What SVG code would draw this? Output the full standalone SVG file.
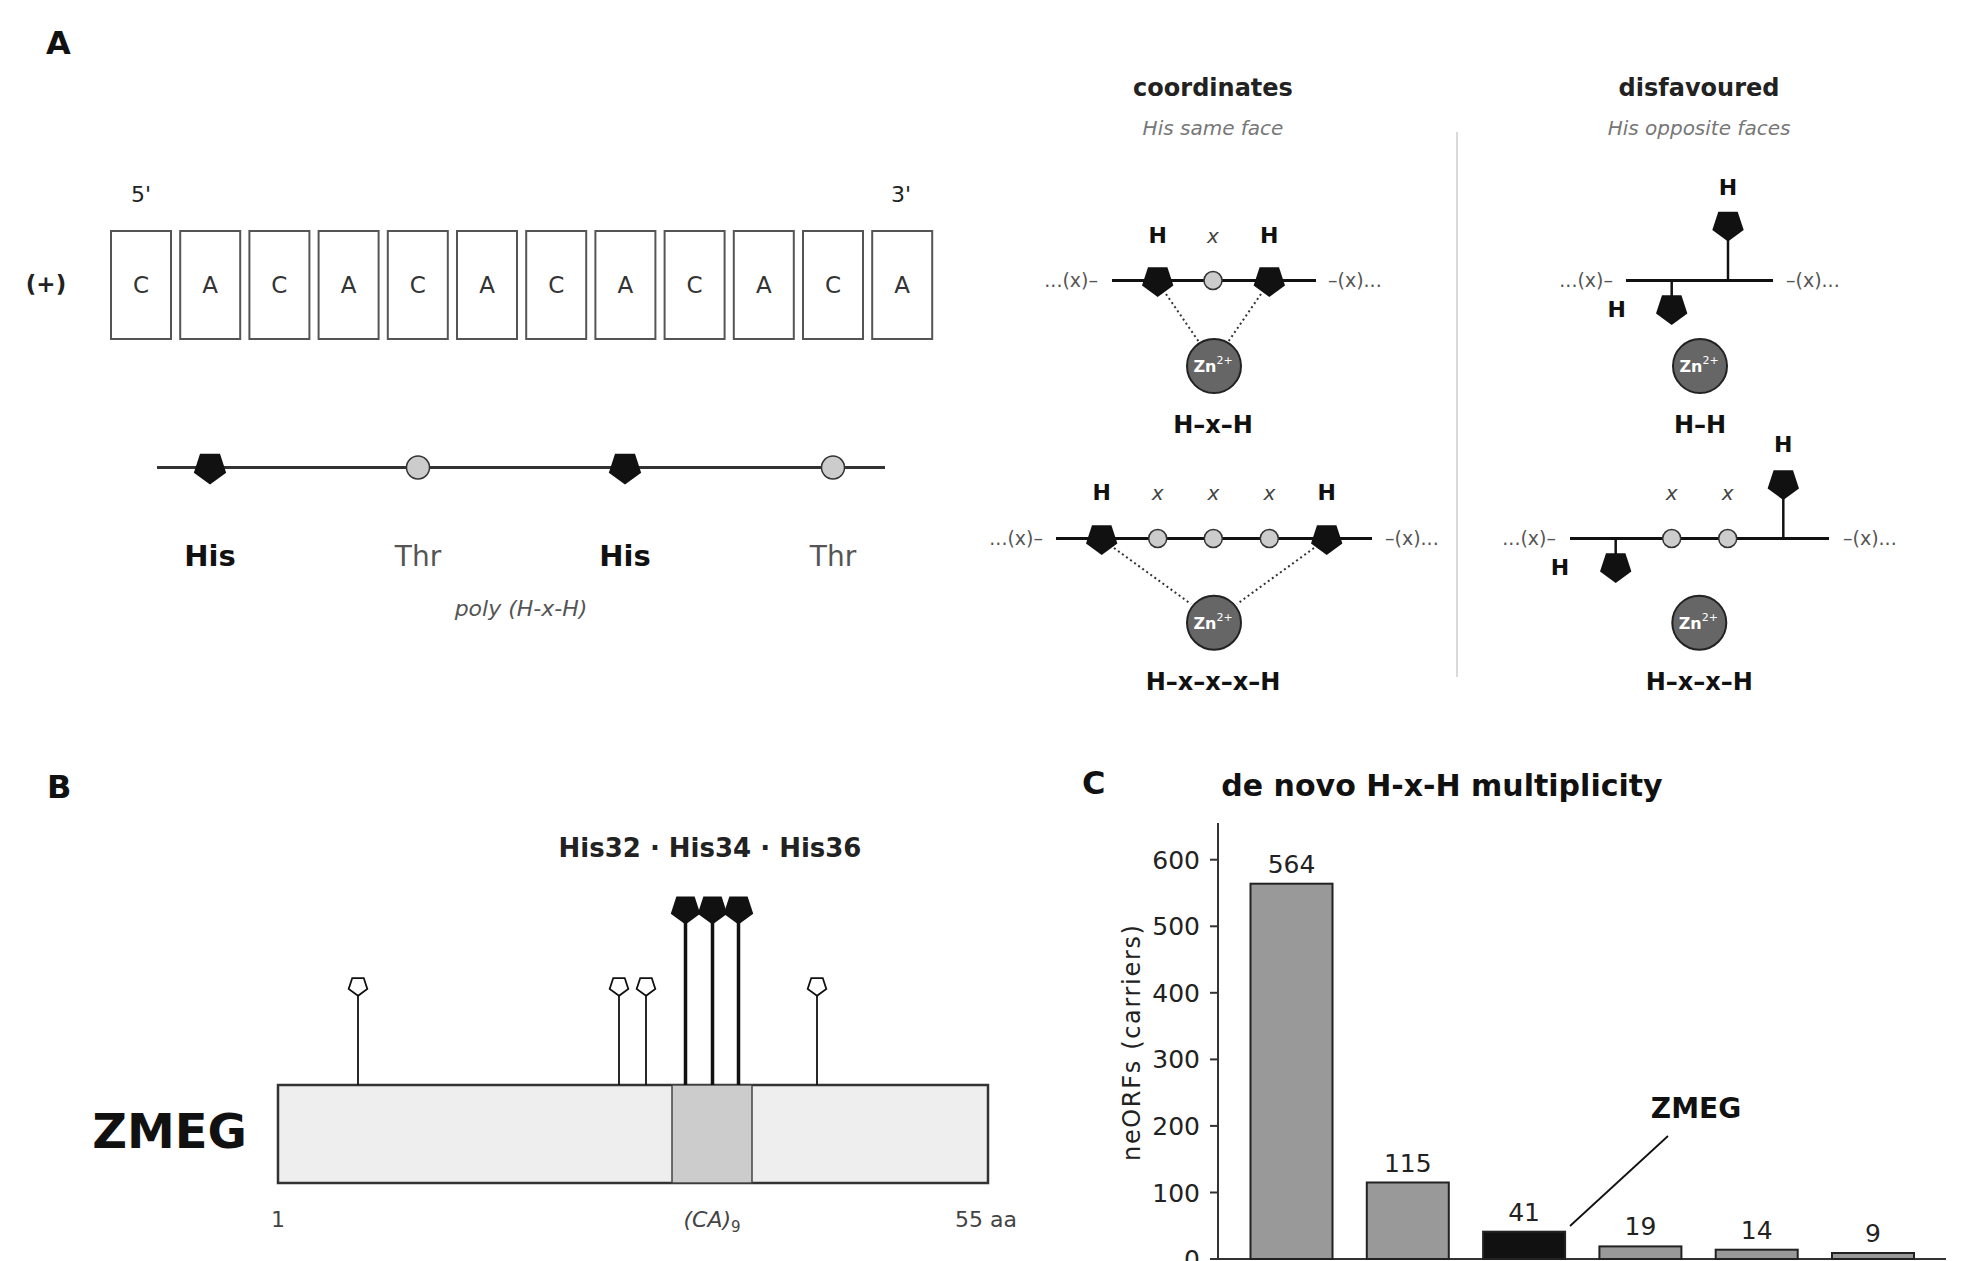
<svg xmlns="http://www.w3.org/2000/svg" xmlns:xlink="http://www.w3.org/1999/xlink" width="1969" height="1261" viewBox="0 0 1969 1261">
<style>
text{font-family:"DejaVu Sans","Liberation Sans",sans-serif}
.lbl{font-weight:bold;font-size:32px;fill:#111}
.box{fill:#fff;stroke:#555;stroke-width:2}
.nt{font-size:23px;fill:#333;text-anchor:middle}
.prime{font-size:22px;fill:#222;text-anchor:middle}
.his{font-size:29px;font-weight:bold;fill:#111;text-anchor:middle}
.thr{font-size:28px;fill:#555;text-anchor:middle}
.ital{font-style:italic;fill:#555;text-anchor:middle}
.head{font-size:24px;font-weight:bold;fill:#222;text-anchor:middle}
.sub{font-size:20px;font-style:italic;fill:#777;text-anchor:middle}
.hl{font-size:22px;font-weight:bold;fill:#111;text-anchor:middle}
.xl{font-size:20px;font-style:italic;fill:#444;text-anchor:middle}
.dots{font-size:19px;fill:#555}
.mot{font-size:24px;font-weight:bold;fill:#111;text-anchor:middle}
.chain{stroke:#111;stroke-width:3;fill:none}
.stem{stroke:#111;stroke-width:2.5;fill:none}
.res{fill:#ccc;stroke:#333;stroke-width:1.5}
.zn{fill:#666;stroke:#222;stroke-width:2}
.zt{font-size:16px;font-weight:bold;fill:#fff;text-anchor:middle}
.coord{stroke:#333;stroke-width:2;stroke-dasharray:2 3;fill:none}
.pf{fill:#111}
.tick{font-size:25px;fill:#222;text-anchor:end}
.val{font-size:25px;fill:#222;text-anchor:middle}
.bar{fill:#999;stroke:#222;stroke-width:2}
.axis{stroke:#333;stroke-width:2;fill:none}
.scale{font-size:22px;fill:#444;text-anchor:middle}
</style>
<defs>
<polygon id="p17" points="0,17 -16.17,5.25 -10,-13.75 10,-13.75 16.17,5.25"/>
<polygon id="p165" points="0,16.5 -15.69,5.1 -9.7,-13.35 9.7,-13.35 15.69,5.1"/>
<polygon id="p155" points="0,15.5 -14.74,4.79 -9.11,-12.54 9.11,-12.54 14.74,4.79"/>
<polygon id="p98" points="0,9.8 -9.32,3.03 -5.76,-7.93 5.76,-7.93 9.32,3.03"/>
</defs>
<rect x="0" y="0" width="1969" height="1261" fill="#fff"/>

<!-- Panel A -->
<g id="panelA-label"><text class="lbl" x="46" y="54">A</text></g>
<g id="sequence">
<text class="prime" x="141" y="202">5'</text>
<text class="prime" x="901" y="202">3'</text>
<text x="46" y="292" font-size="23" font-weight="bold" fill="#222" text-anchor="middle">(+)</text>
<rect class="box" x="111" y="231" width="60" height="108"/><text class="nt" x="141" y="293">C</text>
<rect class="box" x="180.2" y="231" width="60" height="108"/><text class="nt" x="210.2" y="293">A</text>
<rect class="box" x="249.4" y="231" width="60" height="108"/><text class="nt" x="279.4" y="293">C</text>
<rect class="box" x="318.6" y="231" width="60" height="108"/><text class="nt" x="348.6" y="293">A</text>
<rect class="box" x="387.8" y="231" width="60" height="108"/><text class="nt" x="417.8" y="293">C</text>
<rect class="box" x="457" y="231" width="60" height="108"/><text class="nt" x="487" y="293">A</text>
<rect class="box" x="526.2" y="231" width="60" height="108"/><text class="nt" x="556.2" y="293">C</text>
<rect class="box" x="595.4" y="231" width="60" height="108"/><text class="nt" x="625.4" y="293">A</text>
<rect class="box" x="664.6" y="231" width="60" height="108"/><text class="nt" x="694.6" y="293">C</text>
<rect class="box" x="733.8" y="231" width="60" height="108"/><text class="nt" x="763.8" y="293">A</text>
<rect class="box" x="803" y="231" width="60" height="108"/><text class="nt" x="833" y="293">C</text>
<rect class="box" x="872.2" y="231" width="60" height="108"/><text class="nt" x="902.2" y="293">A</text>
</g>
<g id="peptide">
<line x1="157" y1="467.5" x2="885" y2="467.5" stroke="#333" stroke-width="3"/>
<use xlink:href="#p17" href="#p17" x="210" y="467.5" class="pf"/>
<circle class="res" cx="418" cy="467.5" r="11.5"/>
<use xlink:href="#p17" href="#p17" x="625" y="467.5" class="pf"/>
<circle class="res" cx="833" cy="467.5" r="11.5"/>
<text class="his" x="210" y="566">His</text>
<text class="thr" x="418" y="566">Thr</text>
<text class="his" x="625" y="566">His</text>
<text class="thr" x="833" y="566">Thr</text>
<text class="ital" x="521" y="616" font-size="22">poly (H-x-H)</text>
</g>

<g id="col-coordinates">
<text class="head" x="1213" y="96">coordinates</text>
<text class="sub" x="1213" y="135">His same face</text>
</g>
<g id="col-disfavoured">
<text class="head" x="1699" y="96" fill="#333">disfavoured</text>
<text class="sub" x="1699" y="135">His opposite faces</text>
</g>
<line x1="1457" y1="132" x2="1457" y2="677" stroke="#ccc" stroke-width="1.5"/>

<g id="motif-HxH">
<text class="dots" x="1098" y="287" text-anchor="end">...(x)–</text>
<text class="dots" x="1328" y="287">–(x)...</text>
<line class="chain" x1="1112" y1="280.5" x2="1316" y2="280.5"/>
<line class="coord" x1="1166" y1="294" x2="1199" y2="342"/>
<line class="coord" x1="1261" y1="294" x2="1228" y2="342"/>
<use xlink:href="#p165" href="#p165" x="1157.7" y="280.5" class="pf"/>
<circle class="res" cx="1213" cy="280.5" r="9"/>
<use xlink:href="#p165" href="#p165" x="1269.3" y="280.5" class="pf"/>
<text class="hl" x="1157.7" y="243">H</text>
<text class="xl" x="1213" y="243">x</text>
<text class="hl" x="1269.3" y="243">H</text>
<circle class="zn" cx="1214" cy="366" r="27"/>
<text class="zt" x="1213" y="372">Zn<tspan font-size="11" dy="-8" font-weight="normal">2+</tspan></text>
<text class="mot" x="1213" y="433">H–x–H</text>
</g>

<g id="motif-HH">
<text class="dots" x="1613" y="287" text-anchor="end">...(x)–</text>
<text class="dots" x="1786" y="287">–(x)...</text>
<line class="chain" x1="1626" y1="280.5" x2="1773" y2="280.5"/>
<line class="stem" x1="1728" y1="280.5" x2="1728" y2="240"/>
<use xlink:href="#p165" href="#p165" x="1728" y="225" class="pf"/>
<text class="hl" x="1728" y="195">H</text>
<line class="stem" x1="1671.7" y1="280.5" x2="1671.7" y2="297"/>
<use xlink:href="#p165" href="#p165" x="1671.7" y="308.5" class="pf"/>
<text class="hl" x="1616.7" y="317">H</text>
<circle class="zn" cx="1700" cy="366" r="27"/>
<text class="zt" x="1699" y="372">Zn<tspan font-size="11" dy="-8" font-weight="normal">2+</tspan></text>
<text class="mot" x="1700" y="433">H–H</text>
</g>

<g id="motif-HxxxH">
<text class="dots" x="1043" y="545" text-anchor="end">...(x)–</text>
<text class="dots" x="1385" y="545">–(x)...</text>
<line class="chain" x1="1056" y1="538.5" x2="1372" y2="538.5"/>
<line class="coord" x1="1114" y1="548" x2="1191" y2="604"/>
<line class="coord" x1="1314" y1="548" x2="1237" y2="604"/>
<use xlink:href="#p165" href="#p165" x="1101.7" y="538.5" class="pf"/>
<circle class="res" cx="1157.7" cy="538.5" r="9"/>
<circle class="res" cx="1213.3" cy="538.5" r="9"/>
<circle class="res" cx="1269.3" cy="538.5" r="9"/>
<use xlink:href="#p165" href="#p165" x="1326.7" y="538.5" class="pf"/>
<text class="hl" x="1101.7" y="500">H</text>
<text class="xl" x="1157.7" y="500">x</text>
<text class="xl" x="1213.3" y="500">x</text>
<text class="xl" x="1269.3" y="500">x</text>
<text class="hl" x="1326.7" y="500">H</text>
<circle class="zn" cx="1214" cy="622.7" r="27"/>
<text class="zt" x="1213" y="628.7">Zn<tspan font-size="11" dy="-8" font-weight="normal">2+</tspan></text>
<text class="mot" x="1213" y="690">H–x–x–x–H</text>
</g>

<g id="motif-HxxH">
<text class="dots" x="1556" y="545" text-anchor="end">...(x)–</text>
<text class="dots" x="1843" y="545">–(x)...</text>
<line class="chain" x1="1570" y1="538.5" x2="1829" y2="538.5"/>
<line class="stem" x1="1615.7" y1="538.5" x2="1615.7" y2="555"/>
<use xlink:href="#p165" href="#p165" x="1615.7" y="566.5" class="pf"/>
<text class="hl" x="1560" y="575">H</text>
<circle class="res" cx="1671.7" cy="538.5" r="9"/>
<circle class="res" cx="1727.7" cy="538.5" r="9"/>
<text class="xl" x="1671.7" y="500">x</text>
<text class="xl" x="1727.7" y="500">x</text>
<line class="stem" x1="1783.3" y1="538.5" x2="1783.3" y2="498"/>
<use xlink:href="#p165" href="#p165" x="1783.3" y="483.5" class="pf"/>
<text class="hl" x="1783.3" y="452">H</text>
<circle class="zn" cx="1699.3" cy="622.7" r="27"/>
<text class="zt" x="1698.3" y="628.7">Zn<tspan font-size="11" dy="-8" font-weight="normal">2+</tspan></text>
<text class="mot" x="1699.3" y="690">H–x–x–H</text>
</g>

<!-- Panel B -->
<g id="panelB-label"><text class="lbl" x="47" y="798">B</text></g>
<g id="zmeg-protein">
<text x="247" y="1148" font-size="48" font-weight="bold" fill="#111" text-anchor="end">ZMEG</text>
<rect x="278" y="1085" width="710" height="98" fill="#eee" stroke="#333" stroke-width="2.5"/>
<rect x="672" y="1085" width="80" height="98" fill="#ccc" stroke="#444" stroke-width="1.5"/>
<text class="scale" x="278" y="1227">1</text>
<text class="scale" x="712" y="1227"><tspan font-style="italic">(CA)</tspan><tspan font-size="15" dy="5">9</tspan></text>
<text class="scale" x="986" y="1227">55 aa</text>
</g>
<g id="his-sites">
<g stroke="#111" stroke-width="1.8">
<line x1="358" y1="996" x2="358" y2="1085"/>
<line x1="619" y1="996" x2="619" y2="1085"/>
<line x1="646" y1="996" x2="646" y2="1085"/>
<line x1="817" y1="996" x2="817" y2="1085"/>
</g>
<g fill="#fff" stroke="#111" stroke-width="1.8">
<use xlink:href="#p98" href="#p98" x="358" y="986"/>
<use xlink:href="#p98" href="#p98" x="619" y="986"/>
<use xlink:href="#p98" href="#p98" x="646" y="986"/>
<use xlink:href="#p98" href="#p98" x="817" y="986"/>
</g>
<g stroke="#111" stroke-width="3.5">
<line x1="685.5" y1="920" x2="685.5" y2="1085"/>
<line x1="712.5" y1="920" x2="712.5" y2="1085"/>
<line x1="738.5" y1="920" x2="738.5" y2="1085"/>
</g>
<use xlink:href="#p155" href="#p155" x="685.5" y="909" class="pf"/>
<use xlink:href="#p155" href="#p155" x="712.5" y="909" class="pf"/>
<use xlink:href="#p155" href="#p155" x="738.5" y="909" class="pf"/>
<text x="710" y="857" font-size="26" font-weight="bold" fill="#222" text-anchor="middle">His32 · His34 · His36</text>
</g>

<!-- Panel C -->
<g id="panelC-label"><text class="lbl" x="1082" y="794">C</text></g>
<g id="chart">
<text x="1442" y="796" font-size="30" font-weight="bold" fill="#111" text-anchor="middle">de novo H-x-H multiplicity</text>
<line class="axis" x1="1218" y1="823" x2="1218" y2="1259"/>
<line class="axis" x1="1218" y1="1259" x2="1946" y2="1259"/>
<g stroke="#333" stroke-width="2">
<line x1="1210" y1="1259" x2="1218" y2="1259"/>
<line x1="1210" y1="1192.5" x2="1218" y2="1192.5"/>
<line x1="1210" y1="1125.9" x2="1218" y2="1125.9"/>
<line x1="1210" y1="1059.4" x2="1218" y2="1059.4"/>
<line x1="1210" y1="992.8" x2="1218" y2="992.8"/>
<line x1="1210" y1="926.3" x2="1218" y2="926.3"/>
<line x1="1210" y1="859.7" x2="1218" y2="859.7"/>
</g>
<text class="tick" x="1200" y="1268">0</text>
<text class="tick" x="1200" y="1201.5">100</text>
<text class="tick" x="1200" y="1134.9">200</text>
<text class="tick" x="1200" y="1068.4">300</text>
<text class="tick" x="1200" y="1001.8">400</text>
<text class="tick" x="1200" y="935.3">500</text>
<text class="tick" x="1200" y="868.7">600</text>
<text transform="translate(1140,1043) rotate(-90)" font-size="24" fill="#222" text-anchor="middle" textLength="236" lengthAdjust="spacing">neORFs (carriers)</text>
<rect class="bar" x="1250.5" y="883.7" width="82" height="375.3"/>
<rect class="bar" x="1366.8" y="1182.5" width="82" height="76.5"/>
<rect x="1483.1" y="1231.7" width="82" height="27.3" fill="#111" stroke="#222" stroke-width="2"/>
<rect class="bar" x="1599.4" y="1246.4" width="82" height="12.6"/>
<rect class="bar" x="1715.7" y="1249.7" width="82" height="9.3"/>
<rect class="bar" x="1832" y="1253" width="82" height="6"/>
<text class="val" x="1291.5" y="872.7">564</text>
<text class="val" x="1407.8" y="1171.5">115</text>
<text class="val" x="1524.1" y="1220.7">41</text>
<text class="val" x="1640.4" y="1235.4">19</text>
<text class="val" x="1756.7" y="1238.7">14</text>
<text class="val" x="1873" y="1242">9</text>
</g>
<g id="connectors">
<line x1="1668" y1="1136" x2="1570" y2="1226" stroke="#111" stroke-width="1.8"/>
</g>
<g id="zmeg-callout"><text x="1696" y="1118" font-size="28" font-weight="bold" fill="#111" text-anchor="middle">ZMEG</text></g>
</svg>
